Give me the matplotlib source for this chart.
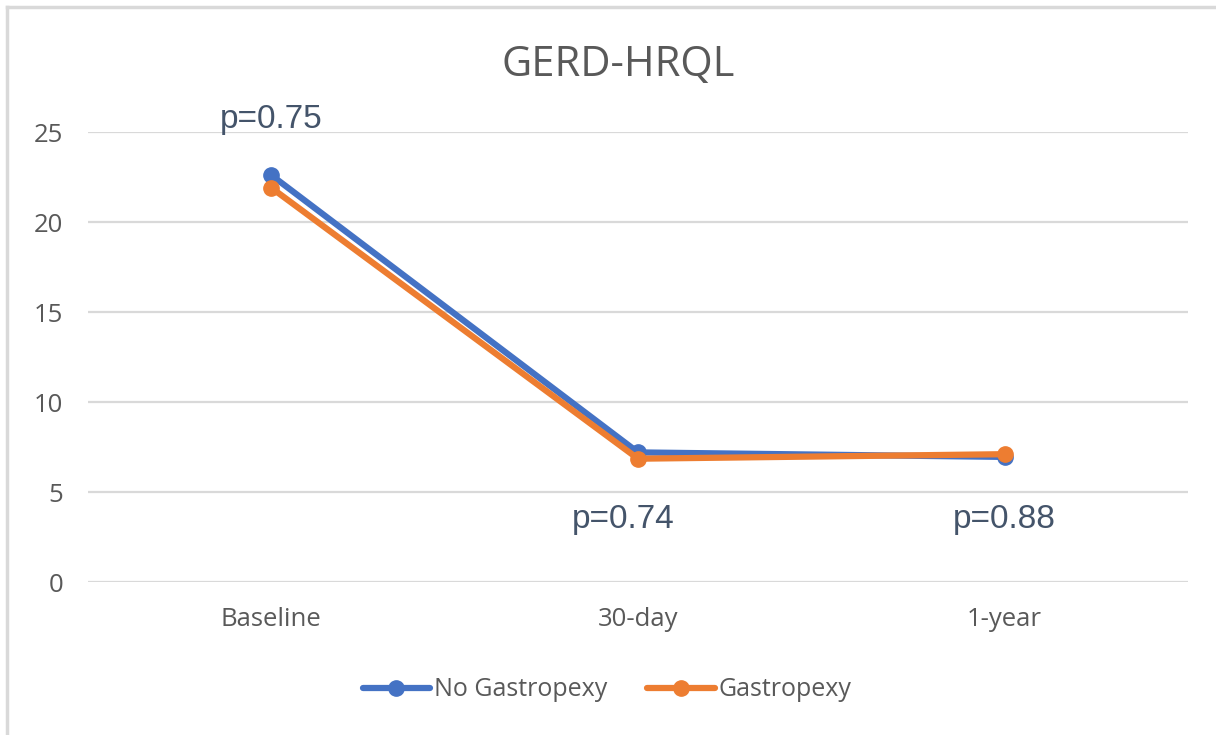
import matplotlib.pyplot as plt
from matplotlib.lines import Line2D

categories = ['Baseline', '30-day', '1-year']
no_gastropexy = [22.6, 7.2, 6.95]
gastropexy = [21.9, 6.85, 7.1]
p_labels = ['p=0.75', 'p=0.74', 'p=0.88']
p_label_pos = [(0.0, 25.2), (0.96, 3.0), (2.0, 3.0)]
y_ticks = [0, 5, 10, 15, 20, 25]

blue = '#4472C4'
orange = '#ED7D31'
grid_gray = '#D9D9D9'
text_gray = '#595959'

fig = plt.figure(figsize=(12.16, 7.35), dpi=100)
ax = fig.add_axes([88 / 1216, 1 - 582 / 735, 1100 / 1216, 450 / 735])

x = list(range(len(categories)))
ax.plot(x, no_gastropexy, color=blue, lw=4.5, marker='o', ms=11,
        solid_capstyle='round', label='No Gastropexy', zorder=3)
ax.plot(x, gastropexy, color=orange, lw=4.5, marker='o', ms=11,
        solid_capstyle='round', label='Gastropexy', zorder=4)

ax.set_xlim(-0.5, 2.5)
ax.set_ylim(0, 25)
ax.set_yticks(y_ticks)
ax.set_xticks(x)
ax.set_xticklabels(categories)
ax.yaxis.grid(True, color=grid_gray, lw=1.6)
ax.set_axisbelow(True)
for s in ax.spines.values():
    s.set_visible(False)
ax.tick_params(axis='both', length=0, labelsize=18.5, labelcolor=text_gray,
               labelfontfamily='Open Sans')
ax.tick_params(axis='y', pad=18)
ax.tick_params(axis='x', pad=18)

# p-value annotations
for lbl, (px, py) in zip(p_labels, p_label_pos):
    ax.text(px, py, lbl, ha='center', va='baseline', fontsize=24,
            color='#44546A', family='Liberation Sans', clip_on=False)

fig.text(618 / 1216, 1 - 65 / 735, 'GERD-HRQL', ha='center', va='center',
         fontsize=30, color=text_gray, family='Open Sans')

handles = [Line2D([], [], color=blue, lw=4.5, marker='o', ms=11, solid_capstyle='round'),
           Line2D([], [], color=orange, lw=4.5, marker='o', ms=11, solid_capstyle='round')]
fig.legend(handles, ['No Gastropexy', 'Gastropexy'], loc='center',
           bbox_to_anchor=(607 / 1216, 1 - 690 / 735), ncol=2, frameon=False,
           prop={'family': 'Open Sans', 'size': 18}, labelcolor=text_gray,
           handlelength=2.7, handletextpad=0.15, columnspacing=1.6)

# outer chart border (left and top only visible)
fig.add_artist(Line2D([6.5 / 1216, 6.5 / 1216], [0, 1 - 6.5 / 735], color=grid_gray,
                      lw=2.5, transform=fig.transFigure))
fig.add_artist(Line2D([6.5 / 1216, 1], [1 - 6.5 / 735, 1 - 6.5 / 735], color=grid_gray,
                      lw=2.5, transform=fig.transFigure))

fig.savefig('out.png', dpi=100, facecolor='white')
